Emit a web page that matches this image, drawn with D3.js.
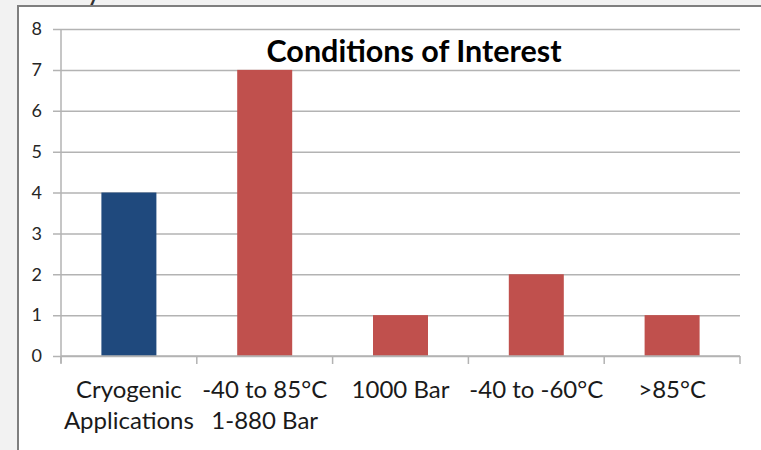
<!DOCTYPE html>
<html>
<head>
<meta charset="utf-8">
<script src="https://cdn.jsdelivr.net/npm/d3@7"></script>
<style>
  html, body { margin: 0; padding: 0; background: #f2f2f2; }
  svg { display: block; }
</style>
</head>
<body>
<svg id="chart" width="761" height="450"></svg>
<script>
// Chart data
const categories = [
  ["Cryogenic", "Applications"],
  ["-40 to 85°C", "1-880 Bar"],
  ["1000 Bar"],
  ["-40 to -60°C"],
  [">85°C"]
];
const values = [4, 7, 1, 2, 1];
const barColors = ["#1f497d", "#c0504d", "#c0504d", "#c0504d", "#c0504d"];
const yTicks = [0, 1, 2, 3, 4, 5, 6, 7, 8];
const title = "Conditions of Interest";

const svg = d3.select("#chart");
const W = 761, H = 450;
const font = "Lato, 'Open Sans', sans-serif";

// page background and chart frame
svg.append("rect").attr("x", 0).attr("y", 0).attr("width", W).attr("height", H).attr("fill", "#f2f2f2");
svg.append("text").attr("x", 86).attr("y", 1).attr("font-family", font)
  .attr("font-size", 30).attr("fill", "#333").text("y");
svg.append("rect").attr("x", 18).attr("y", 6).attr("width", W).attr("height", H)
  .attr("fill", "#ffffff").attr("stroke", "#7f7f7f").attr("stroke-width", 2);

const plot = { left: 61, right: 740, top: 29, bottom: 356 };

const x = d3.scaleBand()
  .domain(d3.range(categories.length))
  .range([plot.left, plot.right])
  .paddingInner(0).paddingOuter(0);

const y = d3.scaleLinear().domain([0, 8]).range([plot.bottom, plot.top]);

// horizontal gridlines with y axis labels
const yAxis = d3.axisLeft(y).tickValues(yTicks).tickSize(-(plot.right - plot.left + 8)).tickPadding(11);
const gy = svg.append("g").attr("transform", `translate(${plot.left - 8},0)`).call(yAxis);
gy.select(".domain").remove();
gy.selectAll(".tick line").attr("stroke", "#b3b3b3").attr("stroke-width", 1.5);
gy.selectAll(".tick text").style("font-family", font).style("font-size", "18px").attr("fill", "#262626");

// vertical axis line
svg.append("line").attr("x1", plot.left).attr("x2", plot.left)
  .attr("y1", plot.top).attr("y2", plot.bottom + 7)
  .attr("stroke", "#b3b3b3").attr("stroke-width", 1.5);

// bars
const barW = x.bandwidth() * 0.405;
svg.append("g").selectAll("rect").data(values).join("rect")
  .attr("x", (d, i) => x(i) + (x.bandwidth() - barW) / 2)
  .attr("y", d => y(d))
  .attr("width", barW)
  .attr("height", d => y(0) - y(d))
  .attr("fill", (d, i) => barColors[i]);

// category axis with boundary ticks
svg.append("line").attr("x1", plot.left).attr("x2", plot.right)
  .attr("y1", plot.bottom).attr("y2", plot.bottom)
  .attr("stroke", "#b3b3b3").attr("stroke-width", 1.5);
const bounds = d3.range(categories.length + 1).map(i => i < categories.length ? x(i) : plot.right);
svg.append("g").selectAll("line").data(bounds).join("line")
  .attr("x1", d => d).attr("x2", d => d)
  .attr("y1", plot.bottom).attr("y2", plot.bottom + 8)
  .attr("stroke", "#b3b3b3").attr("stroke-width", 1.5);

// category labels
const lab = svg.append("g").selectAll("text").data(categories).join("text")
  .attr("font-family", font).attr("font-size", 24).attr("fill", "#1a1a1a")
  .attr("text-anchor", "middle");
lab.each(function(lines, i) {
  const t = d3.select(this);
  lines.forEach((ln, j) => {
    t.append("tspan").attr("x", x(i) + x.bandwidth() / 2).attr("y", 398 + j * 31).text(ln);
  });
});

// title
svg.append("text").attr("x", 414).attr("y", 62).attr("text-anchor", "middle")
  .attr("font-family", font).attr("font-size", 30.5).attr("font-weight", "bold")
  .attr("fill", "#000").text(title);
</script>
</body>
</html>
